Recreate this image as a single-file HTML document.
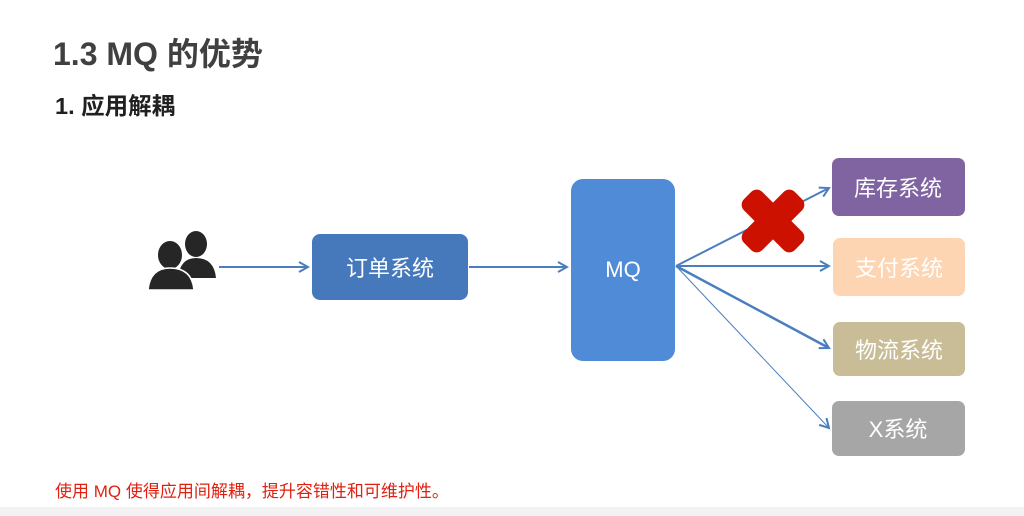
<!DOCTYPE html>
<html><head><meta charset="utf-8"><style>
html,body{margin:0;padding:0;background:#fff;}
body{width:1024px;height:516px;overflow:hidden;position:relative;font-family:"Liberation Sans","Noto Sans CJK SC",sans-serif;}
</style></head><body>
<svg width="1024" height="516" xmlns="http://www.w3.org/2000/svg" style="position:absolute;left:0;top:0">
<defs>
<marker id="a" markerWidth="12" markerHeight="12" refX="10" refY="6" orient="auto" markerUnits="userSpaceOnUse">
<path d="M1,1 L10,6 L1,11" fill="none" stroke="#4a7ebf" stroke-width="2"/>
</marker>
</defs>
<text x="53" y="65" font-size="32" font-weight="bold" fill="#404040" font-family="Liberation Sans,Noto Sans CJK SC,sans-serif">1.3 MQ 的优势</text>
<text x="55" y="114" font-size="23.5" font-weight="bold" fill="#202020" font-family="Liberation Sans,Noto Sans CJK SC,sans-serif">1. 应用解耦</text>
<g fill="#262626">
<ellipse cx="196" cy="244" rx="11" ry="13"/>
<path d="M178,278 Q180,258 196,258 Q214,258 216,278 Z"/>
<ellipse cx="170" cy="255" rx="13" ry="15" stroke="#fff" stroke-width="2"/>
<path d="M148,290 Q150,268 170,268 Q192,268 194,290 Z" stroke="#fff" stroke-width="1.5"/>
</g>
<line x1="219" y1="267" x2="308" y2="267" stroke="#4a7ebf" stroke-width="2" marker-end="url(#a)"/>
<rect x="312" y="234" width="156" height="66" rx="8" fill="#4579bb"/>
<text x="390" y="276" font-size="22" fill="#fff" text-anchor="middle" font-family="Liberation Sans,Noto Sans CJK SC,sans-serif">订单系统</text>
<line x1="469" y1="267" x2="567" y2="267" stroke="#4a7ebf" stroke-width="2" marker-end="url(#a)"/>
<rect x="571" y="179" width="104" height="182" rx="12" fill="#4f8bd6"/>
<text x="623" y="277" font-size="22" fill="#fff" text-anchor="middle">MQ</text>
<line x1="676" y1="266" x2="829" y2="188" stroke="#4a7ebf" stroke-width="2" marker-end="url(#a)"/>
<line x1="676" y1="266" x2="829" y2="266" stroke="#4a7ebf" stroke-width="2" marker-end="url(#a)"/>
<line x1="676" y1="266" x2="829" y2="348" stroke="#4a7ebf" stroke-width="2.5" marker-end="url(#a)"/>
<line x1="676" y1="266" x2="829" y2="428" stroke="#4a7ebf" stroke-width="1" marker-end="url(#a)"/>
<g transform="translate(773,221) rotate(45)">
<rect x="-36" y="-13" width="72" height="26" rx="8" fill="#cc1100"/>
<rect x="-13" y="-36" width="26" height="72" rx="8" fill="#cc1100"/>
</g>
<rect x="832" y="158" width="133" height="58" rx="7" fill="#8064a2"/>
<text x="898" y="196" font-size="22" fill="#fff" text-anchor="middle" font-family="Liberation Sans,Noto Sans CJK SC,sans-serif">库存系统</text>
<rect x="833" y="238" width="132" height="58" rx="7" fill="#fdd5b2"/>
<text x="899" y="276" font-size="22" fill="#fff" text-anchor="middle" font-family="Liberation Sans,Noto Sans CJK SC,sans-serif">支付系统</text>
<rect x="833" y="322" width="132" height="54" rx="7" fill="#c8bd96"/>
<text x="899" y="358" font-size="22" fill="#fff" text-anchor="middle" font-family="Liberation Sans,Noto Sans CJK SC,sans-serif">物流系统</text>
<rect x="832" y="401" width="133" height="55" rx="7" fill="#a6a6a6"/>
<text x="898" y="437" font-size="22" fill="#fff" text-anchor="middle" font-family="Liberation Sans,Noto Sans CJK SC,sans-serif">X系统</text>
<text x="55" y="497" font-size="17" fill="#e02010" font-family="Liberation Sans,Noto Sans CJK SC,sans-serif">使用 MQ 使得应用间解耦，提升容错性和可维护性。</text>
<rect x="0" y="507" width="1024" height="9" fill="#f2f2f2"/>
</svg>
</body></html>
